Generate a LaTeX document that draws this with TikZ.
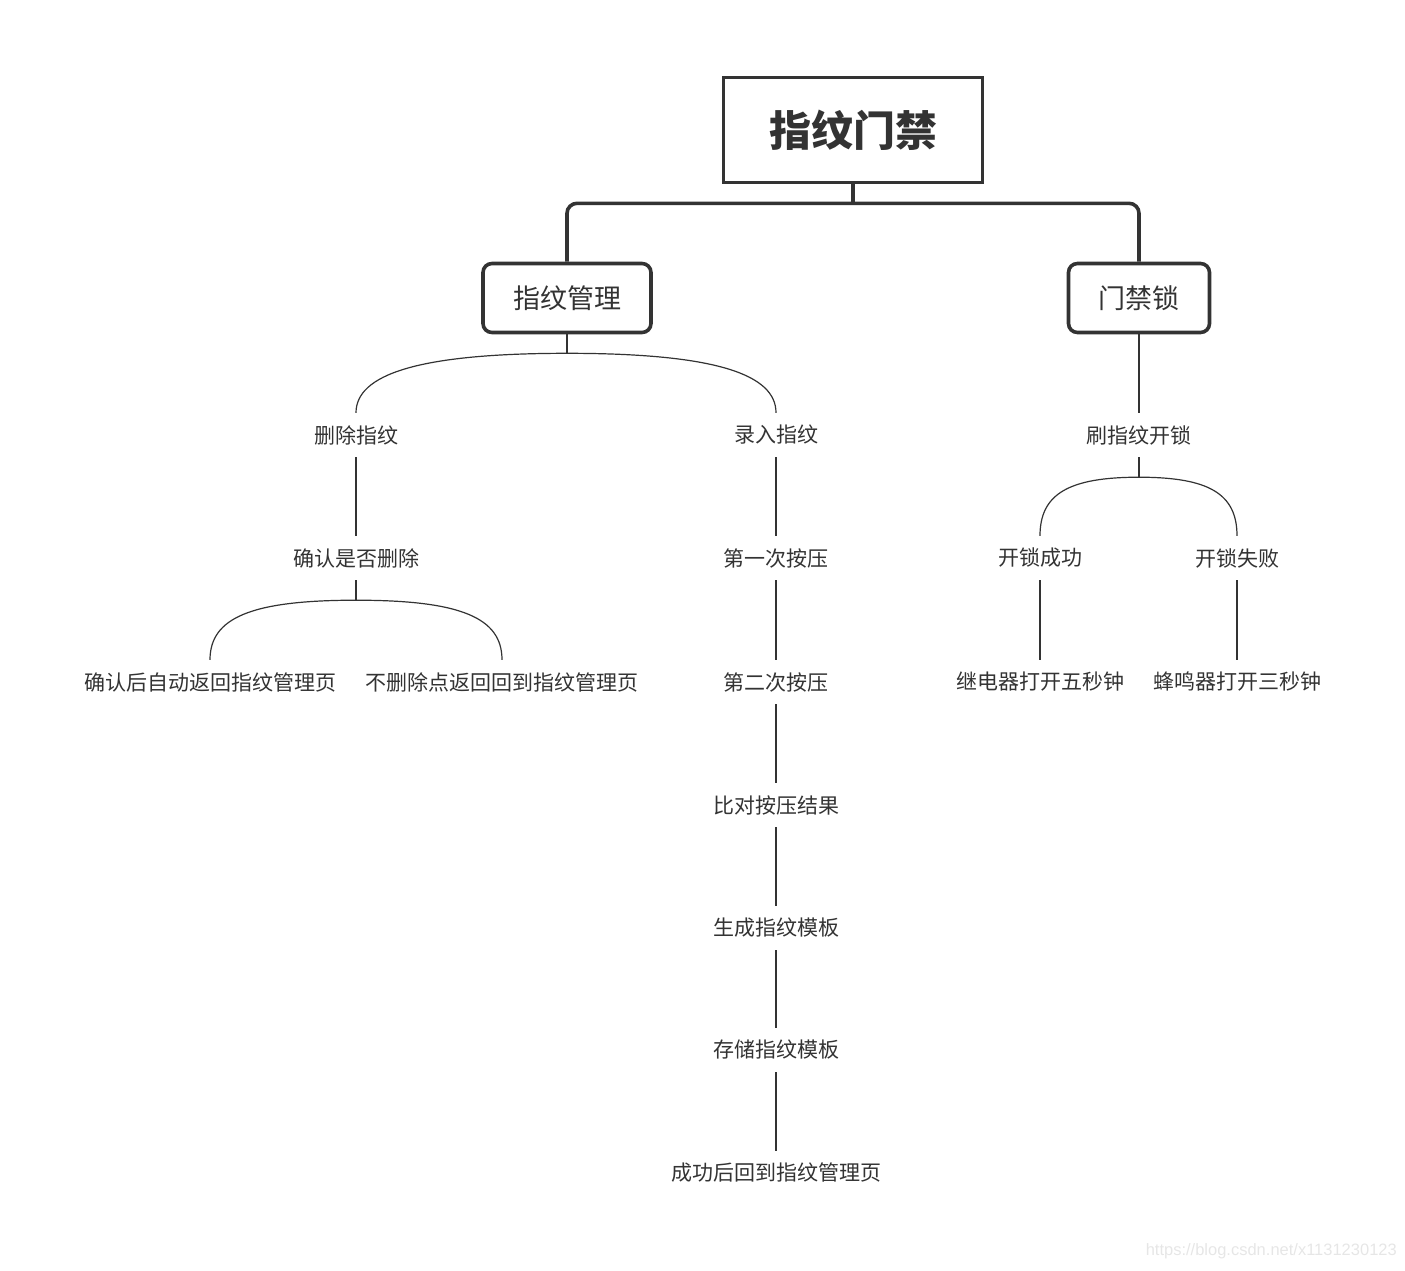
\documentclass[tikz,border=0pt]{standalone}
\usepackage{fontspec}
\setmainfont{Noto Sans CJK SC}
\newfontfamily\wmfont{Liberation Sans}
\usepackage{tikz}
\usetikzlibrary{calc,positioning}
\definecolor{Ink}{HTML}{333333}
\definecolor{Faint}{HTML}{E6E6E6}
\tikzset{
  rootbox/.style={draw=Ink, line width=3.6pt, minimum width=259pt, minimum height=105pt,
    font=\fontsize{42}{48}\selectfont\bfseries, text=Ink},
  topicbox/.style={draw=Ink, line width=3.6pt, rounded corners=9pt, inner xsep=30pt,
    minimum height=69pt, font=\fontsize{27}{32}\selectfont, text=Ink},
  leaf/.style={inner sep=0pt, minimum height=44pt, font=\fontsize{21}{25}\selectfont, text=Ink},
  thinline/.style={draw=Ink, line width=1.2pt},
  thickline/.style={draw=Ink, line width=3.6pt}
}
\begin{document}
\begin{tikzpicture}[x=1pt,y=-1pt]
\useasboundingbox (0,0) rectangle (1405,1270);

% root and topics
\node[rootbox] (root) at (853,130) {指纹门禁};
\node[topicbox] (mgmt) at (567,298) {指纹管理};
\node[topicbox] (lock) at (1139,298) {门禁锁};

% left branch
\node[leaf] (del) at (356,435) {删除指纹};
\node[leaf] (delask) at (356,558) {确认是否删除};
\node[leaf] (delyes) at (210,682) {确认后自动返回指纹管理页};
\node[leaf] (delno) at (502,682) {不删除点返回回到指纹管理页};

% enrol column
\node[leaf] (enrol) at (776,435) {录入指纹};
\node[leaf] (press1) at (776,558) {第一次按压};
\node[leaf] (press2) at (776,682) {第二次按压};
\node[leaf] (compare) at (776,805) {比对按压结果};
\node[leaf] (make) at (776,928) {生成指纹模板};
\node[leaf] (store) at (776,1050) {存储指纹模板};
\node[leaf] (back) at (776,1173) {成功后回到指纹管理页};

% lock branch
\node[leaf] (swipe) at (1139,435) {刷指纹开锁};
\node[leaf] (okay) at (1040,558) {开锁成功};
\node[leaf] (fail) at (1237,558) {开锁失败};
\node[leaf] (relay) at (1040,682) {继电器打开五秒钟};
\node[leaf] (buzz) at (1237,682) {蜂鸣器打开三秒钟};

% thick connectors
\coordinate (rootfork) at ($(root.south)+(0,19)$);
\draw[thickline] (root.south) -- (rootfork);
\draw[thickline, rounded corners=10pt] (mgmt.north) |- (rootfork) -| (lock.north);

% forks
\coordinate (mgmtfork) at ($(mgmt.south)+(0,19)$);
\draw[thinline] (mgmt.south) -- (mgmtfork);
\draw[thinline] (del.north) .. controls ($(del.north)+(0,-38)$) and ($(mgmtfork)+(-150,0)$) .. (mgmtfork)
  .. controls ($(mgmtfork)+(150,0)$) and ($(enrol.north)+(0,-38)$) .. (enrol.north);

\coordinate (askfork) at ($(delask.south)+(0,20)$);
\draw[thinline] (delask.south) -- (askfork);
\draw[thinline] (delyes.north) .. controls ($(delyes.north)+(0,-42)$) and ($(askfork)+(-105,0)$) .. (askfork)
  .. controls ($(askfork)+(105,0)$) and ($(delno.north)+(0,-42)$) .. (delno.north);

\coordinate (swipefork) at ($(swipe.south)+(0,20)$);
\draw[thinline] (swipe.south) -- (swipefork);
\draw[thinline] (okay.north) .. controls ($(okay.north)+(0,-42)$) and ($(swipefork)+(-70,0)$) .. (swipefork)
  .. controls ($(swipefork)+(70,0)$) and ($(fail.north)+(0,-42)$) .. (fail.north);

% straight links
\draw[thinline] (del) -- (delask);
\draw[thinline] (enrol) -- (press1);
\draw[thinline] (press1) -- (press2);
\draw[thinline] (press2) -- (compare);
\draw[thinline] (compare) -- (make);
\draw[thinline] (make) -- (store);
\draw[thinline] (store) -- (back);
\draw[thinline] (lock.south) -- (swipe.north);
\draw[thinline] (okay) -- (relay);
\draw[thinline] (fail) -- (buzz);

% watermark
\node[text=Faint, font=\wmfont\fontsize{16.5}{19}\selectfont, anchor=east, inner sep=0pt] (mark) at (1397,1251) {https://blog.csdn.net/x1131230123};
\end{tikzpicture}
\end{document}
